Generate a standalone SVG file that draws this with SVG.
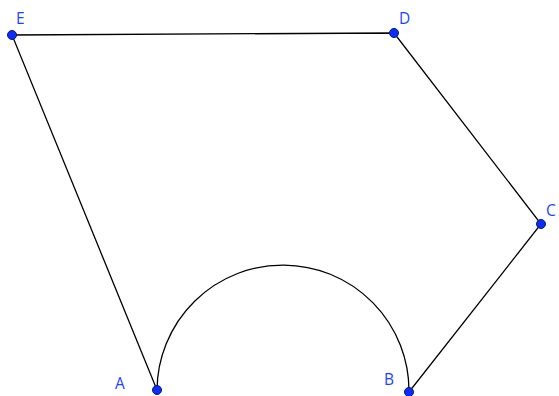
<svg xmlns="http://www.w3.org/2000/svg" width="559" height="396" viewBox="0 0 559 396">
<style>
.edge{fill:none;stroke:#000;stroke-width:1.3}
.pt{fill:#0a2cff;stroke:#0a1a66;stroke-width:1}
.lbl{font-family:"Open Sans","DejaVu Sans",sans-serif;font-size:15.5px;fill:#1a44ff}
</style>
<rect width="559" height="396" fill="#fff"/>
<g id="connectors">
<path class="edge" d="M157,390 L12,35 L394,33 L541,224 L409,392"/>
<path class="edge" d="M157,390 A126,126 0 0 1 409,392"/>
</g>
<g id="E"><circle class="pt" cx="12" cy="35" r="4.5"/><text class="lbl" x="16" y="24">E</text></g>
<g id="D"><circle class="pt" cx="394" cy="33" r="4.5"/><text class="lbl" x="399" y="24">D</text></g>
<g id="C"><circle class="pt" cx="541" cy="224" r="4.5"/><text class="lbl" x="546" y="216">C</text></g>
<g id="A"><circle class="pt" cx="157" cy="390" r="4.5"/><text class="lbl" x="115" y="389">A</text></g>
<g id="B"><circle class="pt" cx="409" cy="392" r="4.5"/><text class="lbl" x="384" y="385">B</text></g>
</svg>
